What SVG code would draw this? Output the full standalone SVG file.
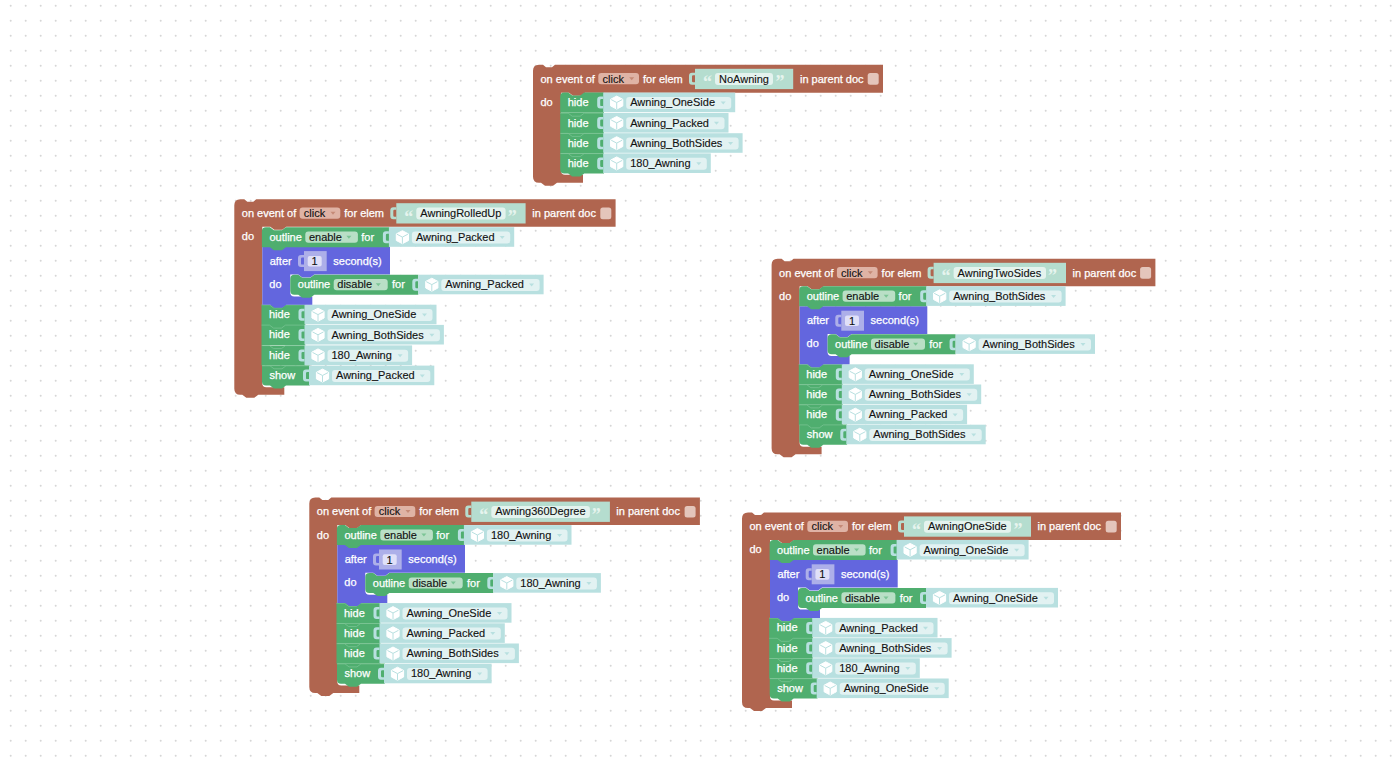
<svg xmlns="http://www.w3.org/2000/svg" width="1399" height="761" viewBox="0 0 1399 761">
<style>
text{font-family:"Liberation Sans",Arial,sans-serif;font-size:11px}
.w{fill:#fff;stroke:#fff;stroke-width:.25}.d{fill:#111;stroke:#111;stroke-width:.12}
.q{fill:#e6f4ee;font-family:"Liberation Serif",serif;font-size:18px;font-weight:bold}
.br{fill:#b0654f}.gr{fill:#4fae6f}.pu{fill:#6366de}
.vb{fill:#b8e0e0}.vf{fill:#e2f2f2}.va{fill:#b8e0e0}
.sb{fill:#b5ddcf}.sf{fill:#e4f3ee}
.bf{fill:#dfb3a5}.ba{fill:#c58a77}.ck{fill:#e4c5bb}
.gf{fill:#b9dfc6}.ga{fill:#7cc596}
.nb{fill:#adafe9}.nf{fill:#e0e0f8}
.sep{fill:none;stroke:#7cc596;stroke-width:.7}
</style>
<defs>
<pattern id="dots" width="15" height="15" patternUnits="userSpaceOnUse"><circle cx="10.7" cy="5.7" r="1" fill="#d6d6d6"/></pattern>
<path id="tab" d="M6,0H3Q0,0 0,3V9Q0,12 3,12H6V9.5H4.2Q3,9.5 3,8.3V3.7Q3,2.5 4.2,2.5H6Z"/>
<g id="cube"><path d="M6.5,0 12.6,3.2V9.8L6.5,13 .4,9.8V3.2Z" fill="#fff" stroke="#fff" stroke-linejoin="round"/><path d="M1,3.5 6.5,6.4 12,3.5M6.5,6.4V13" fill="none" stroke="#b8e0e0"/></g>
<path id="ar" d="M-2.5,-1.5h5l-2.5,3z"/>
<g id="hm"><path class="gr" d="M0,0H43.8V20.2H0Z"/><path class="sep" d="M0,.2H8l4,3h8l4,-3H43.8"/></g>
<g id="hl"><path class="gr" d="M0,0H43.8V20H24l-4,3h-8l-4,-3H4Q0,20 0,16Z"/><path class="sep" d="M0,.2H8l4,3h8l4,-3H43.8"/></g>
<path id="hf" class="gr" d="M0,4Q0,0 4,0H8l4,3h8l4,-3H43.8V20.2H0Z"/>
<g id="sl"><path class="gr" d="M0,0H47.8V20H24l-4,3h-8l-4,-3H4Q0,20 0,16Z"/><path class="sep" d="M0,.2H8l4,3h8l4,-3H47.8"/></g>
<path id="o1" class="gr" d="M0,4Q0,0 4,0H8l4,3h8l4,-3H127.5V20H24l-4,3h-8l-4,-3H0Z"/>
<path id="o2" class="gr" d="M0,4Q0,0 4,0H8l4,3h8l4,-3H128V20H24l-4,3h-8l-4,-3H4Q0,20 0,16Z"/>
<path id="pu" class="pu" d="M0,0H127.7V27.7H52l-4,3h-8l-4,-3H28V46Q28,49.7 32,49.7H50V58H24l-4,3h-8l-4,-3H0Z"/>
</defs>
<rect width="1399" height="761" fill="#fff"/>
<rect width="1399" height="761" fill="url(#dots)"/>

<g id="stack-noawning" transform="translate(533,64.8)">
<path class="br" d="M0,6Q0,0 6,0H10l3,2.5h6l3,-2.5H350V28H52l-4,3h-8l-4,-3H28V106Q28,110 32,110H50V118H24l-4,3h-8l-4,-3H6Q0,118 0,112Z"/>
<text class="w" x="7.5" y="18">on event of</text>
<rect class="bf" x="65.3" y="8.3" width="40.7" height="11.2" rx="3"/><text class="d" x="69.5" y="18">click</text><use href="#ar" class="ba" x="98.7" y="14"/>
<text class="w" x="110" y="18">for elem</text>
<use href="#tab" class="sb" x="156" y="8"/>
<g transform="translate(162,4)"><rect class="sb" width="98.2" height="20.3"/><text class="q" x="8" y="19.5">“</text><rect class="sf" x="20" y="4.3" width="58" height="12" rx="3"/><text class="d" x="24" y="14">NoAwning</text><text class="q" x="80.5" y="19.5">”</text></g>
<text class="w" x="267" y="18">in parent doc</text>
<rect class="ck" x="334.7" y="8.3" width="11" height="11.7" rx="2.5"/>
<text class="w" x="7.5" y="41">do</text>
<g id="a-hide1" transform="translate(27.2,27.8)"><use href="#hf"/><text class="w" x="7.5" y="13.5">hide</text><g transform="translate(43)"><rect class="vb" width="132" height="19.6"/><use href="#tab" class="vb" x="-6" y="4"/><use href="#cube" x="7" y="3.5"/><rect class="vf" x="23" y="4.3" width="105" height="12" rx="3"/><text class="d" x="27" y="13.6">Awning_OneSide</text><use href="#ar" class="va" x="120" y="10.3"/></g></g>
<g id="a-hide2" transform="translate(27.2,48.2)"><use href="#hm"/><text class="w" x="7.5" y="13.5">hide</text><g transform="translate(43)"><rect class="vb" width="125.3" height="19.6"/><use href="#tab" class="vb" x="-6" y="4"/><use href="#cube" x="7" y="3.5"/><rect class="vf" x="23" y="4.3" width="98.3" height="12" rx="3"/><text class="d" x="27" y="13.8">Awning_Packed</text><use href="#ar" class="va" x="113.3" y="10.3"/></g></g>
<g id="a-hide3" transform="translate(27.2,68.4)"><use href="#hm"/><text class="w" x="7.5" y="13.5">hide</text><g transform="translate(43)"><rect class="vb" width="139.4" height="19.6"/><use href="#tab" class="vb" x="-6" y="4"/><use href="#cube" x="7" y="3.5"/><rect class="vf" x="23" y="4.3" width="112.4" height="12" rx="3"/><text class="d" x="27" y="13.8">Awning_BothSides</text><use href="#ar" class="va" x="127.4" y="10.3"/></g></g>
<g id="a-hide4" transform="translate(27.2,88.6)"><use href="#hl"/><text class="w" x="7.5" y="13.5">hide</text><g transform="translate(43)"><rect class="vb" width="107.6" height="19.6"/><use href="#tab" class="vb" x="-6" y="4"/><use href="#cube" x="7" y="3.5"/><rect class="vf" x="23" y="4.3" width="80.6" height="12" rx="3"/><text class="d" x="27" y="13.8">180_Awning</text><use href="#ar" class="va" x="95.6" y="10.3"/></g></g>
</g>

<g id="stack-rolledup" transform="translate(234.3,199.2)">
<path class="br" d="M0,6Q0,0 6,0H10l3,2.5h6l3,-2.5H381.3V27.5H52l-4,3h-8l-4,-3H28V184Q28,188 32,188H50V195.5H24l-4,3h-8l-4,-3H6Q0,195.5 0,189.5Z"/>
<text class="w" x="7.5" y="18">on event of</text>
<rect class="bf" x="65.3" y="8.3" width="40.7" height="11.2" rx="3"/><text class="d" x="69.5" y="18">click</text><use href="#ar" class="ba" x="98.7" y="14"/>
<text class="w" x="110" y="18">for elem</text>
<use href="#tab" class="sb" x="156" y="8"/>
<g transform="translate(162,4)"><rect class="sb" width="129.3" height="20.3"/><text class="q" x="8" y="19.5">“</text><rect class="sf" x="20" y="4.3" width="89.3" height="12" rx="3"/><text class="d" x="24" y="14">AwningRolledUp</text><text class="q" x="111.5" y="19.5">”</text></g>
<text class="w" x="298" y="18">in parent doc</text>
<rect class="ck" x="366" y="8.3" width="11" height="11.7" rx="2.5"/>
<text class="w" x="7.5" y="40.5">do</text>
<g id="b-hide1" transform="translate(27.2,105.5)"><use href="#hm"/><text class="w" x="7.5" y="13.5">hide</text><g transform="translate(43)"><rect class="vb" width="132" height="19.6"/><use href="#tab" class="vb" x="-6" y="4"/><use href="#cube" x="7" y="3.5"/><rect class="vf" x="23" y="4.3" width="105" height="12" rx="3"/><text class="d" x="27" y="13.8">Awning_OneSide</text><use href="#ar" class="va" x="120" y="10.3"/></g></g>
<g id="b-hide2" transform="translate(27.2,125.7)"><use href="#hm"/><text class="w" x="7.5" y="13.5">hide</text><g transform="translate(43)"><rect class="vb" width="139.4" height="19.6"/><use href="#tab" class="vb" x="-6" y="4"/><use href="#cube" x="7" y="3.5"/><rect class="vf" x="23" y="4.3" width="112.4" height="12" rx="3"/><text class="d" x="27" y="13.8">Awning_BothSides</text><use href="#ar" class="va" x="127.4" y="10.3"/></g></g>
<g id="b-hide3" transform="translate(27.2,146.2)"><use href="#hm"/><text class="w" x="7.5" y="13.5">hide</text><g transform="translate(43)"><rect class="vb" width="107.6" height="19.6"/><use href="#tab" class="vb" x="-6" y="4"/><use href="#cube" x="7" y="3.5"/><rect class="vf" x="23" y="4.3" width="80.6" height="12" rx="3"/><text class="d" x="27" y="13.8">180_Awning</text><use href="#ar" class="va" x="95.6" y="10.3"/></g></g>
<g id="b-show" transform="translate(27.7,166.4)"><use href="#sl"/><text class="w" x="7.5" y="13.5">show</text><g transform="translate(47)"><rect class="vb" width="125.3" height="19.6"/><use href="#tab" class="vb" x="-6" y="4"/><use href="#cube" x="7" y="3.5"/><rect class="vf" x="23" y="4.3" width="98.3" height="12" rx="3"/><text class="d" x="27" y="13.8">Awning_Packed</text><use href="#ar" class="va" x="113.3" y="10.3"/></g></g>
<g id="b-after" transform="translate(28,47.5)"><use href="#pu"/><text class="w" x="7.4" y="18">after</text><use href="#tab" class="nb" x="35.7" y="8.4"/><rect class="nb" x="41.7" y="4.4" width="22.7" height="20"/><rect class="nf" x="45.4" y="9.2" width="14" height="10.6" rx="2"/><text class="d" x="49.3" y="18.5">1</text><text class="w" x="71" y="18">second(s)</text><text class="w" x="7" y="41">do</text>
<g id="b-disable" transform="translate(28,28)"><use href="#o2"/><text class="w" x="7.5" y="13.8">outline</text><rect class="gf" x="43.4" y="4.3" width="54" height="11.2" rx="3"/><text class="d" x="47" y="13.8">disable</text><use href="#ar" class="ga" x="88" y="10"/><text class="w" x="101.7" y="13.8">for</text><use href="#tab" class="vb" x="122" y="4"/><g transform="translate(128)"><rect class="vb" width="125.3" height="19.6"/><use href="#cube" x="7" y="3.5"/><rect class="vf" x="23" y="4.3" width="98.3" height="12" rx="3"/><text class="d" x="27" y="13.8">Awning_Packed</text><use href="#ar" class="va" x="113.3" y="10.3"/></g></g></g>
<g id="b-enable" transform="translate(27.6,28)"><use href="#o1"/><text class="w" x="7.5" y="13.8">outline</text><rect class="gf" x="43.4" y="4.3" width="52.6" height="11.2" rx="3"/><text class="d" x="47" y="13.8">enable</text><use href="#ar" class="ga" x="87" y="10"/><text class="w" x="99.4" y="13.8">for</text><use href="#tab" class="vb" x="121" y="4"/><g transform="translate(127)"><rect class="vb" width="125.3" height="19.6"/><use href="#cube" x="7" y="3.5"/><rect class="vf" x="23" y="4.3" width="98.3" height="12" rx="3"/><text class="d" x="27" y="13.8">Awning_Packed</text><use href="#ar" class="va" x="113.3" y="10.3"/></g></g>
</g>

<g id="stack-twosides" transform="translate(771.6,258.8)">
<path class="br" d="M0,6Q0,0 6,0H10l3,2.5h6l3,-2.5H383.8V27.5H52l-4,3h-8l-4,-3H28V184Q28,188 32,188H50V195.5H24l-4,3h-8l-4,-3H6Q0,195.5 0,189.5Z"/>
<text class="w" x="7.5" y="18">on event of</text>
<rect class="bf" x="65.3" y="8.3" width="40.7" height="11.2" rx="3"/><text class="d" x="69.5" y="18">click</text><use href="#ar" class="ba" x="98.7" y="14"/>
<text class="w" x="110" y="18">for elem</text>
<use href="#tab" class="sb" x="156" y="8"/>
<g transform="translate(162,4)"><rect class="sb" width="132.4" height="20.3"/><text class="q" x="8" y="19.5">“</text><rect class="sf" x="20" y="4.3" width="92.4" height="12" rx="3"/><text class="d" x="24" y="14">AwningTwoSides</text><text class="q" x="114.5" y="19.5">”</text></g>
<text class="w" x="301" y="18">in parent doc</text>
<rect class="ck" x="368.5" y="8.3" width="11" height="11.7" rx="2.5"/>
<text class="w" x="7.5" y="41">do</text>
<g id="c-hide1" transform="translate(27.2,105.5)"><use href="#hm"/><text class="w" x="7.5" y="13.5">hide</text><g transform="translate(43)"><rect class="vb" width="132" height="19.6"/><use href="#tab" class="vb" x="-6" y="4"/><use href="#cube" x="7" y="3.5"/><rect class="vf" x="23" y="4.3" width="105" height="12" rx="3"/><text class="d" x="27" y="13.8">Awning_OneSide</text><use href="#ar" class="va" x="120" y="10.3"/></g></g>
<g id="c-hide2" transform="translate(27.2,125.7)"><use href="#hm"/><text class="w" x="7.5" y="13.5">hide</text><g transform="translate(43)"><rect class="vb" width="139.4" height="19.6"/><use href="#tab" class="vb" x="-6" y="4"/><use href="#cube" x="7" y="3.5"/><rect class="vf" x="23" y="4.3" width="112.4" height="12" rx="3"/><text class="d" x="27" y="13.8">Awning_BothSides</text><use href="#ar" class="va" x="127.4" y="10.3"/></g></g>
<g id="c-hide3" transform="translate(27.2,145.9)"><use href="#hm"/><text class="w" x="7.5" y="13.5">hide</text><g transform="translate(43)"><rect class="vb" width="125.3" height="19.6"/><use href="#tab" class="vb" x="-6" y="4"/><use href="#cube" x="7" y="3.5"/><rect class="vf" x="23" y="4.3" width="98.3" height="12" rx="3"/><text class="d" x="27" y="13.8">Awning_Packed</text><use href="#ar" class="va" x="113.3" y="10.3"/></g></g>
<g id="c-show" transform="translate(27.7,165.9)"><use href="#sl"/><text class="w" x="7.5" y="13.5">show</text><g transform="translate(47)"><rect class="vb" width="139.4" height="19.6"/><use href="#tab" class="vb" x="-6" y="4"/><use href="#cube" x="7" y="3.5"/><rect class="vf" x="23" y="4.3" width="112.4" height="12" rx="3"/><text class="d" x="27" y="13.8">Awning_BothSides</text><use href="#ar" class="va" x="127.4" y="10.3"/></g></g>
<g id="c-after" transform="translate(28,47.5)"><use href="#pu"/><text class="w" x="7.4" y="18">after</text><use href="#tab" class="nb" x="35.7" y="8.4"/><rect class="nb" x="41.7" y="4.4" width="22.7" height="20"/><rect class="nf" x="45.4" y="9.2" width="14" height="10.6" rx="2"/><text class="d" x="49.3" y="18.5">1</text><text class="w" x="71" y="18">second(s)</text><text class="w" x="7" y="40.5">do</text>
<g id="c-disable" transform="translate(28,28)"><use href="#o2"/><text class="w" x="7.5" y="13.8">outline</text><rect class="gf" x="43.4" y="4.3" width="54" height="11.2" rx="3"/><text class="d" x="47" y="13.8">disable</text><use href="#ar" class="ga" x="88" y="10"/><text class="w" x="101.7" y="13.8">for</text><use href="#tab" class="vb" x="122" y="4"/><g transform="translate(128)"><rect class="vb" width="139.4" height="19.6"/><use href="#cube" x="7" y="3.5"/><rect class="vf" x="23" y="4.3" width="112.4" height="12" rx="3"/><text class="d" x="27" y="13.8">Awning_BothSides</text><use href="#ar" class="va" x="127.4" y="10.3"/></g></g></g>
<g id="c-enable" transform="translate(27.6,27.5)"><use href="#o1"/><text class="w" x="7.5" y="13.8">outline</text><rect class="gf" x="43.4" y="4.3" width="52.6" height="11.2" rx="3"/><text class="d" x="47" y="13.8">enable</text><use href="#ar" class="ga" x="87" y="10"/><text class="w" x="99.4" y="13.8">for</text><use href="#tab" class="vb" x="121" y="4"/><g transform="translate(127)"><rect class="vb" width="139.4" height="19.6"/><use href="#cube" x="7" y="3.5"/><rect class="vf" x="23" y="4.3" width="112.4" height="12" rx="3"/><text class="d" x="27" y="13.8">Awning_BothSides</text><use href="#ar" class="va" x="127.4" y="10.3"/></g></g>
</g>

<g id="stack-360" transform="translate(309.3,497.6)">
<path class="br" d="M0,6Q0,0 6,0H10l3,2.5h6l3,-2.5H390.6V27.5H52l-4,3h-8l-4,-3H28V184Q28,188 32,188H50V195.5H24l-4,3h-8l-4,-3H6Q0,195.5 0,189.5Z"/>
<text class="w" x="7.5" y="17.6">on event of</text>
<rect class="bf" x="65.3" y="8.3" width="40.7" height="11.2" rx="3"/><text class="d" x="69.5" y="17.6">click</text><use href="#ar" class="ba" x="98.7" y="14"/>
<text class="w" x="110" y="17.6">for elem</text>
<use href="#tab" class="sb" x="156" y="8"/>
<g transform="translate(162,4)"><rect class="sb" width="138.6" height="20.3"/><text class="q" x="8" y="19.5">“</text><rect class="sf" x="20" y="4.3" width="98.6" height="12" rx="3"/><text class="d" x="24" y="13.6">Awning360Degree</text><text class="q" x="120.5" y="19.5">”</text></g>
<text class="w" x="307" y="17.6">in parent doc</text>
<rect class="ck" x="375.3" y="8.3" width="11" height="11.7" rx="2.5"/>
<text class="w" x="7.5" y="41">do</text>
<g id="d-hide1" transform="translate(27.2,105.5)"><use href="#hm"/><text class="w" x="7.5" y="13.5">hide</text><g transform="translate(43)"><rect class="vb" width="132" height="19.6"/><use href="#tab" class="vb" x="-6" y="4"/><use href="#cube" x="7" y="3.5"/><rect class="vf" x="23" y="4.3" width="105" height="12" rx="3"/><text class="d" x="27" y="13.8">Awning_OneSide</text><use href="#ar" class="va" x="120" y="10.3"/></g></g>
<g id="d-hide2" transform="translate(27.2,125.7)"><use href="#hm"/><text class="w" x="7.5" y="13.5">hide</text><g transform="translate(43)"><rect class="vb" width="125.3" height="19.6"/><use href="#tab" class="vb" x="-6" y="4"/><use href="#cube" x="7" y="3.5"/><rect class="vf" x="23" y="4.3" width="98.3" height="12" rx="3"/><text class="d" x="27" y="13.8">Awning_Packed</text><use href="#ar" class="va" x="113.3" y="10.3"/></g></g>
<g id="d-hide3" transform="translate(27.2,145.9)"><use href="#hm"/><text class="w" x="7.5" y="13.5">hide</text><g transform="translate(43)"><rect class="vb" width="139.4" height="19.6"/><use href="#tab" class="vb" x="-6" y="4"/><use href="#cube" x="7" y="3.5"/><rect class="vf" x="23" y="4.3" width="112.4" height="12" rx="3"/><text class="d" x="27" y="13.8">Awning_BothSides</text><use href="#ar" class="va" x="127.4" y="10.3"/></g></g>
<g id="d-show" transform="translate(27.7,166.1)"><use href="#sl"/><text class="w" x="7.5" y="13.5">show</text><g transform="translate(47)"><rect class="vb" width="107.6" height="19.6"/><use href="#tab" class="vb" x="-6" y="4"/><use href="#cube" x="7" y="3.5"/><rect class="vf" x="23" y="4.3" width="80.6" height="12" rx="3"/><text class="d" x="27" y="13.8">180_Awning</text><use href="#ar" class="va" x="95.6" y="10.3"/></g></g>
<g id="d-after" transform="translate(28,47.5)"><use href="#pu"/><text class="w" x="7.4" y="18">after</text><use href="#tab" class="nb" x="35.7" y="8.4"/><rect class="nb" x="41.7" y="4.4" width="22.7" height="20"/><rect class="nf" x="45.4" y="9.2" width="14" height="10.6" rx="2"/><text class="d" x="49.3" y="18.5">1</text><text class="w" x="71" y="18">second(s)</text><text class="w" x="7" y="40.5">do</text>
<g id="d-disable" transform="translate(28,28)"><use href="#o2"/><text class="w" x="7.5" y="13.8">outline</text><rect class="gf" x="43.4" y="4.3" width="54" height="11.2" rx="3"/><text class="d" x="47" y="13.8">disable</text><use href="#ar" class="ga" x="88" y="10"/><text class="w" x="101.7" y="13.8">for</text><use href="#tab" class="vb" x="122" y="4"/><g transform="translate(128)"><rect class="vb" width="107.6" height="19.6"/><use href="#cube" x="7" y="3.5"/><rect class="vf" x="23" y="4.3" width="80.6" height="12" rx="3"/><text class="d" x="27" y="13.8">180_Awning</text><use href="#ar" class="va" x="95.6" y="10.3"/></g></g></g>
<g id="d-enable" transform="translate(27.6,27.5)"><use href="#o1"/><text class="w" x="7.5" y="13.8">outline</text><rect class="gf" x="43.4" y="4.3" width="52.6" height="11.2" rx="3"/><text class="d" x="47" y="13.8">enable</text><use href="#ar" class="ga" x="87" y="10"/><text class="w" x="99.4" y="13.8">for</text><use href="#tab" class="vb" x="121" y="4"/><g transform="translate(127)"><rect class="vb" width="107.6" height="19.6"/><use href="#cube" x="7" y="3.5"/><rect class="vf" x="23" y="4.3" width="80.6" height="12" rx="3"/><text class="d" x="27" y="13.8">180_Awning</text><use href="#ar" class="va" x="95.6" y="10.3"/></g></g>
</g>

<g id="stack-oneside" transform="translate(742,512.4)">
<path class="br" d="M0,6Q0,0 6,0H10l3,2.5h6l3,-2.5H379V27.5H52l-4,3h-8l-4,-3H28V184Q28,188 32,188H50V195.5H24l-4,3h-8l-4,-3H6Q0,195.5 0,189.5Z"/>
<text class="w" x="7.5" y="18">on event of</text>
<rect class="bf" x="65.3" y="8.3" width="40.7" height="11.2" rx="3"/><text class="d" x="69.5" y="18">click</text><use href="#ar" class="ba" x="98.7" y="14"/>
<text class="w" x="110" y="18">for elem</text>
<use href="#tab" class="sb" x="156" y="8"/>
<g transform="translate(162,4)"><rect class="sb" width="127" height="20.3"/><text class="q" x="8" y="19.5">“</text><rect class="sf" x="20" y="4.3" width="87" height="12" rx="3"/><text class="d" x="24" y="14">AwningOneSide</text><text class="q" x="109.5" y="19.5">”</text></g>
<text class="w" x="295.5" y="18">in parent doc</text>
<rect class="ck" x="363.7" y="8.3" width="11" height="11.7" rx="2.5"/>
<text class="w" x="7.5" y="40.5">do</text>
<g id="e-hide1" transform="translate(27.2,105.5)"><use href="#hm"/><text class="w" x="7.5" y="13.5">hide</text><g transform="translate(43)"><rect class="vb" width="125.3" height="19.6"/><use href="#tab" class="vb" x="-6" y="4"/><use href="#cube" x="7" y="3.5"/><rect class="vf" x="23" y="4.3" width="98.3" height="12" rx="3"/><text class="d" x="27" y="13.8">Awning_Packed</text><use href="#ar" class="va" x="113.3" y="10.3"/></g></g>
<g id="e-hide2" transform="translate(27.2,125.7)"><use href="#hm"/><text class="w" x="7.5" y="13.5">hide</text><g transform="translate(43)"><rect class="vb" width="139.4" height="19.6"/><use href="#tab" class="vb" x="-6" y="4"/><use href="#cube" x="7" y="3.5"/><rect class="vf" x="23" y="4.3" width="112.4" height="12" rx="3"/><text class="d" x="27" y="13.8">Awning_BothSides</text><use href="#ar" class="va" x="127.4" y="10.3"/></g></g>
<g id="e-hide3" transform="translate(27.2,145.9)"><use href="#hm"/><text class="w" x="7.5" y="13.5">hide</text><g transform="translate(43)"><rect class="vb" width="107.6" height="19.6"/><use href="#tab" class="vb" x="-6" y="4"/><use href="#cube" x="7" y="3.5"/><rect class="vf" x="23" y="4.3" width="80.6" height="12" rx="3"/><text class="d" x="27" y="13.8">180_Awning</text><use href="#ar" class="va" x="95.6" y="10.3"/></g></g>
<g id="e-show" transform="translate(27.7,166.1)"><use href="#sl"/><text class="w" x="7.5" y="13.5">show</text><g transform="translate(47)"><rect class="vb" width="132" height="19.6"/><use href="#tab" class="vb" x="-6" y="4"/><use href="#cube" x="7" y="3.5"/><rect class="vf" x="23" y="4.3" width="105" height="12" rx="3"/><text class="d" x="27" y="13.8">Awning_OneSide</text><use href="#ar" class="va" x="120" y="10.3"/></g></g>
<g id="e-after" transform="translate(28,47.5)"><use href="#pu"/><text class="w" x="7.4" y="18">after</text><use href="#tab" class="nb" x="35.7" y="8.4"/><rect class="nb" x="41.7" y="4.4" width="22.7" height="20"/><rect class="nf" x="45.4" y="9.2" width="14" height="10.6" rx="2"/><text class="d" x="49.3" y="18.5">1</text><text class="w" x="71" y="18">second(s)</text><text class="w" x="7" y="41">do</text>
<g id="e-disable" transform="translate(28,28)"><use href="#o2"/><text class="w" x="7.5" y="13.8">outline</text><rect class="gf" x="43.4" y="4.3" width="54" height="11.2" rx="3"/><text class="d" x="47" y="13.8">disable</text><use href="#ar" class="ga" x="88" y="10"/><text class="w" x="101.7" y="13.8">for</text><use href="#tab" class="vb" x="122" y="4"/><g transform="translate(128)"><rect class="vb" width="132" height="19.6"/><use href="#cube" x="7" y="3.5"/><rect class="vf" x="23" y="4.3" width="105" height="12" rx="3"/><text class="d" x="27" y="13.8">Awning_OneSide</text><use href="#ar" class="va" x="120" y="10.3"/></g></g></g>
<g id="e-enable" transform="translate(27.6,27.5)"><use href="#o1"/><text class="w" x="7.5" y="13.8">outline</text><rect class="gf" x="43.4" y="4.3" width="52.6" height="11.2" rx="3"/><text class="d" x="47" y="13.8">enable</text><use href="#ar" class="ga" x="87" y="10"/><text class="w" x="99.4" y="13.8">for</text><use href="#tab" class="vb" x="121" y="4"/><g transform="translate(127)"><rect class="vb" width="132" height="19.6"/><use href="#cube" x="7" y="3.5"/><rect class="vf" x="23" y="4.3" width="105" height="12" rx="3"/><text class="d" x="27" y="13.8">Awning_OneSide</text><use href="#ar" class="va" x="120" y="10.3"/></g></g>
</g>
</svg>
